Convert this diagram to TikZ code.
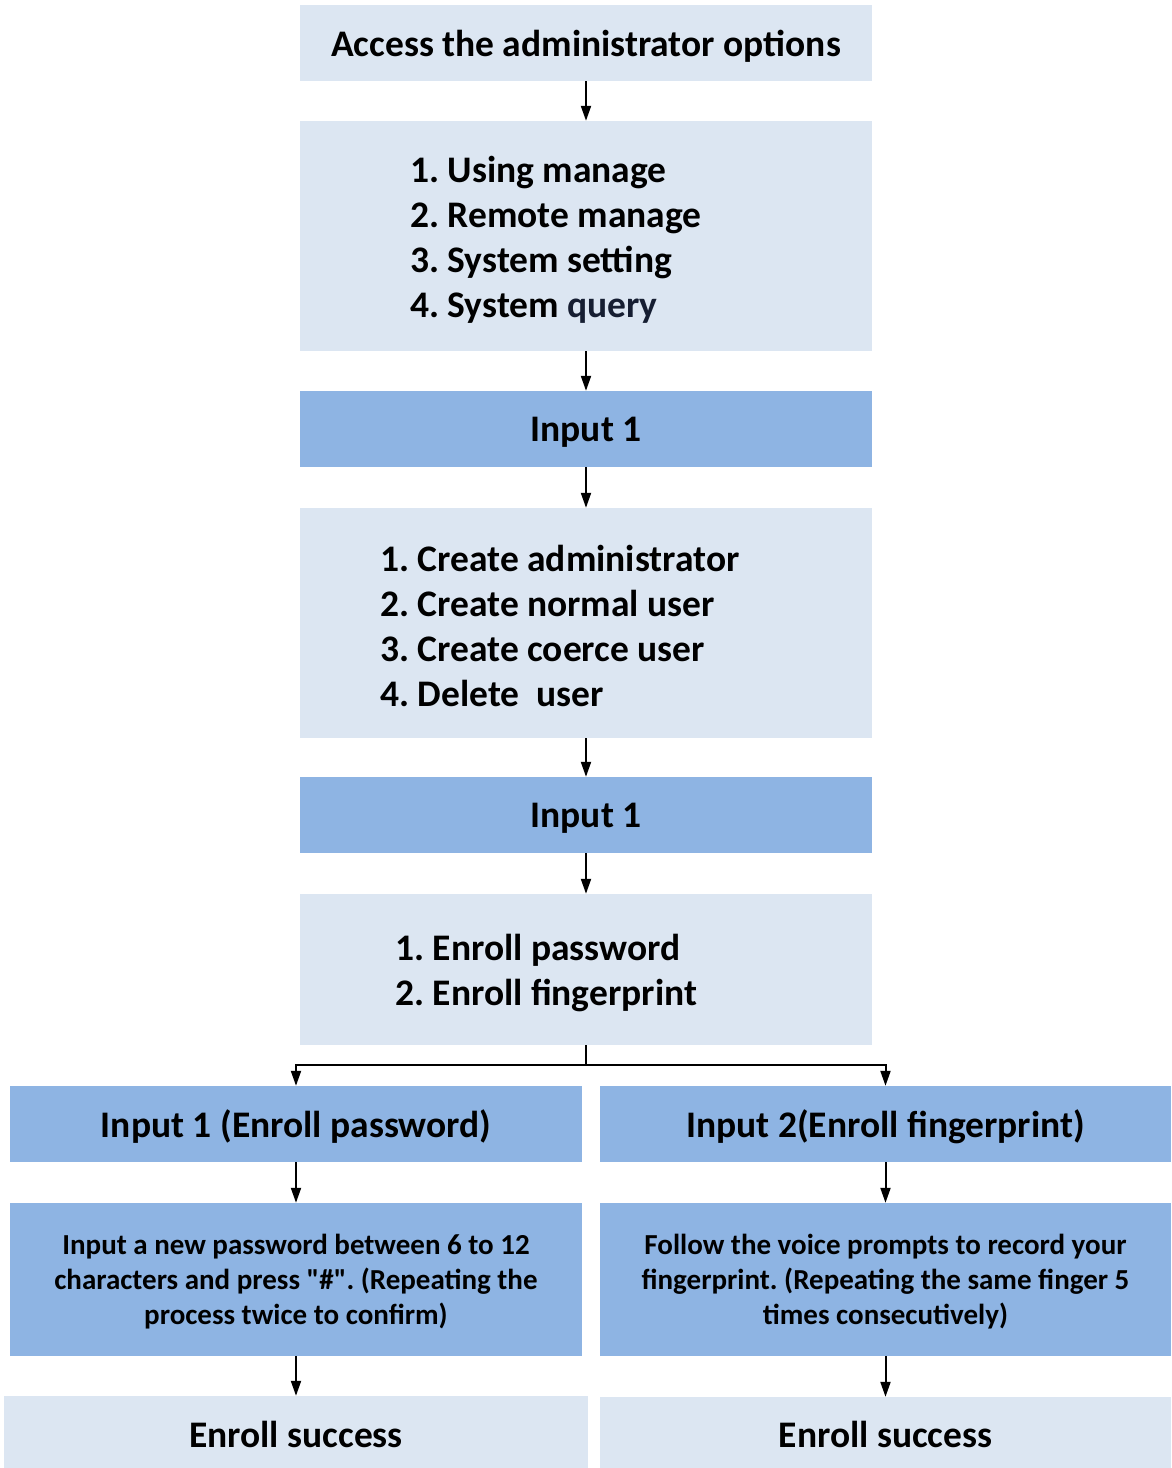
\documentclass[tikz,border=0pt]{standalone}
\usepackage{fontspec}
\setmainfont{Carlito}[Ligatures=TeXOff]
\usetikzlibrary{arrows.meta}
\definecolor{lightbox}{RGB}{220,230,242}
\definecolor{darkbox}{RGB}{142,180,227}
\definecolor{navytext}{RGB}{22,30,50}
\frenchspacing
\begin{document}
\begin{tikzpicture}[x=1pt,y=-1pt,
  box/.style={rectangle,inner sep=0pt,draw=none,text depth=0pt,font=\fontsize{37.5}{45}\selectfont\bfseries},
  lbox/.style={box,fill=lightbox},
  dbox/.style={box,fill=darkbox},
  wide/.style={minimum width=572pt},
  listtext/.style={inner sep=0pt,align=left,anchor=west,font=\fontsize{37.5}{45}\selectfont\bfseries},
  small/.style={align=center,inner sep=0pt,font=\fontsize{29}{35}\selectfont\bfseries},
  arr/.style={-{Triangle[length=15pt,width=10pt]},line width=2pt}]
\useasboundingbox (0,0) rectangle (1171,1468);
% main column
\node[lbox,wide,minimum height=76pt] (a) at (586,43) {Access the administrator options};
\node[lbox,wide,minimum height=230pt] (b) at (586,236) {};
\node[listtext] (bt) at (410,240) {1. Using manage\\2. Remote manage\\3. System setting\\4. System \textcolor{navytext}{query}};
\node[dbox,wide,minimum height=76pt] (c) at (586,429) {Input 1};
\node[lbox,wide,minimum height=230pt] (d) at (586,623) {};
\node[listtext] (dt) at (380,626) {1. Create administrator\\2. Create normal user\\3. Create coerce user\\4. Delete\ \ user};
\node[dbox,wide,minimum height=76pt] (e) at (586,815) {Input 1};
\node[lbox,wide,minimum height=151pt] (f) at (586,969.5) {};
\node[listtext] (ft) at (395,973) {1. Enroll password\\2. Enroll fingerprint};
% branches
\node[dbox,minimum width=572pt,minimum height=76pt] (g) at (296,1124) {Input 1 (Enroll password)};
\node[dbox,minimum width=571pt,minimum height=76pt] (h) at (885.5,1124) {Input 2(Enroll fingerprint)};
\node[dbox,minimum width=572pt,minimum height=153pt] (i) at (296,1279.5) {};
\node[small] (it) at (296,1282) {Input a new password between 6 to 12\\characters and press "\#". (Repeating the\\process twice to confirm)};
\node[dbox,minimum width=571pt,minimum height=153pt] (j) at (885.5,1279.5) {};
\node[small] (jt) at (885.5,1282) {Follow the voice prompts to record your\\fingerprint. (Repeating the same finger 5\\times consecutively)};
\node[lbox,minimum width=584pt,minimum height=72pt] (k) at (296,1432) {\raisebox{-4pt}{Enroll success}};
\node[lbox,minimum width=571pt,minimum height=71pt] (l) at (885.5,1432.5) {\raisebox{-4pt}{Enroll success}};
% connectors
\draw[arr] (a.south) -- (b.north);
\draw[arr] (b.south) -- (c.north);
\draw[arr] (c.south) -- (d.north);
\draw[arr] (d.south) -- (e.north);
\draw[arr] (e.south) -- (f.north);
\coordinate (split) at (586,1065);
\draw[line width=2pt] (f.south) -- (split);
\draw[arr] (split) -| (g.north);
\draw[arr] (split) -| (h.north);
\draw[arr] (g.south) -- (i.north);
\draw[arr] (h.south) -- (j.north);
\draw[arr] (i.south) -- (k.north);
\draw[arr] (j.south) -- (l.north);
\end{tikzpicture}
\end{document}
